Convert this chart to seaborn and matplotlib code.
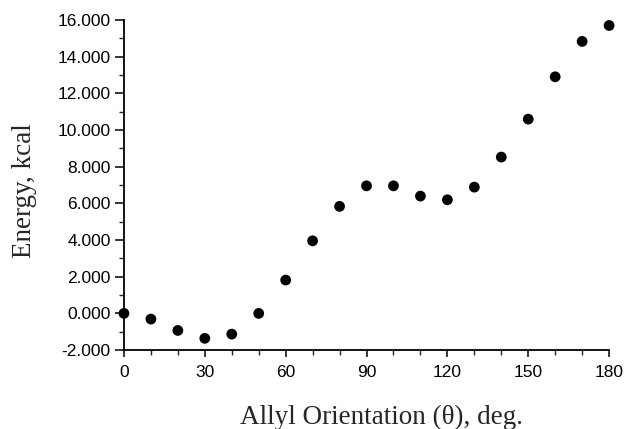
import matplotlib
matplotlib.use("Agg")
import matplotlib.pyplot as plt
import seaborn as sns
import pandas as pd
from matplotlib.ticker import MultipleLocator, FormatStrFormatter

angles = [0, 10, 20, 30, 40, 50, 60, 70, 80, 90, 100, 110, 120, 130, 140, 150, 160, 170, 180]
energy = [0.0, -0.31, -0.93, -1.36, -1.13, 0.0, 1.82, 3.96, 5.84, 6.96, 6.96, 6.40, 6.20, 6.89,
          8.53, 10.60, 12.91, 14.84, 15.71]
x_label = "Allyl Orientation (\u03b8), deg."
y_label = "Energy, kcal"

df = pd.DataFrame({"angle": angles, "energy": energy})

sns.set_style("ticks")
plt.rcParams["font.family"] = ["Liberation Sans", "DejaVu Sans"]
plt.rcParams["axes.unicode_minus"] = False

fig = plt.figure(figsize=(6.26, 4.29), dpi=100)
ax = fig.add_axes([0.198, 0.184, 0.775, 0.769])

sns.scatterplot(data=df, x="angle", y="energy", ax=ax, color="black", s=60,
                edgecolor="none", linewidth=0, legend=False, clip_on=False, zorder=3)

ax.set_xlim(0, 180)
ax.set_ylim(-2, 16)
ax.xaxis.set_major_locator(MultipleLocator(30))
ax.xaxis.set_minor_locator(MultipleLocator(10))
ax.yaxis.set_major_locator(MultipleLocator(2))
ax.yaxis.set_minor_locator(MultipleLocator(1))
ax.yaxis.set_major_formatter(FormatStrFormatter("%.3f"))

sns.despine(ax=ax)
for s in ["left", "bottom"]:
    ax.spines[s].set_linewidth(1.3)
    ax.spines[s].set_color("black")

ax.tick_params(axis="both", which="major", labelsize=12.5, colors="black", width=1.1)
ax.tick_params(axis="y", which="major", length=6.5, pad=3)
ax.tick_params(axis="y", which="minor", length=3.5, width=1.0)
ax.tick_params(axis="x", which="major", length=5, pad=6)
ax.tick_params(axis="x", which="minor", length=3.5, width=1.0)

ax.set_xlabel(x_label, fontsize=19.5, family=["Liberation Serif", "DejaVu Serif"], labelpad=18)
ax.set_ylabel(y_label, fontsize=19.5, family=["Liberation Serif", "DejaVu Serif"], labelpad=15)
ax.xaxis.label.set_x(0.53)
ax.yaxis.label.set_y(0.482)

fig.savefig("out.png", dpi=100)
